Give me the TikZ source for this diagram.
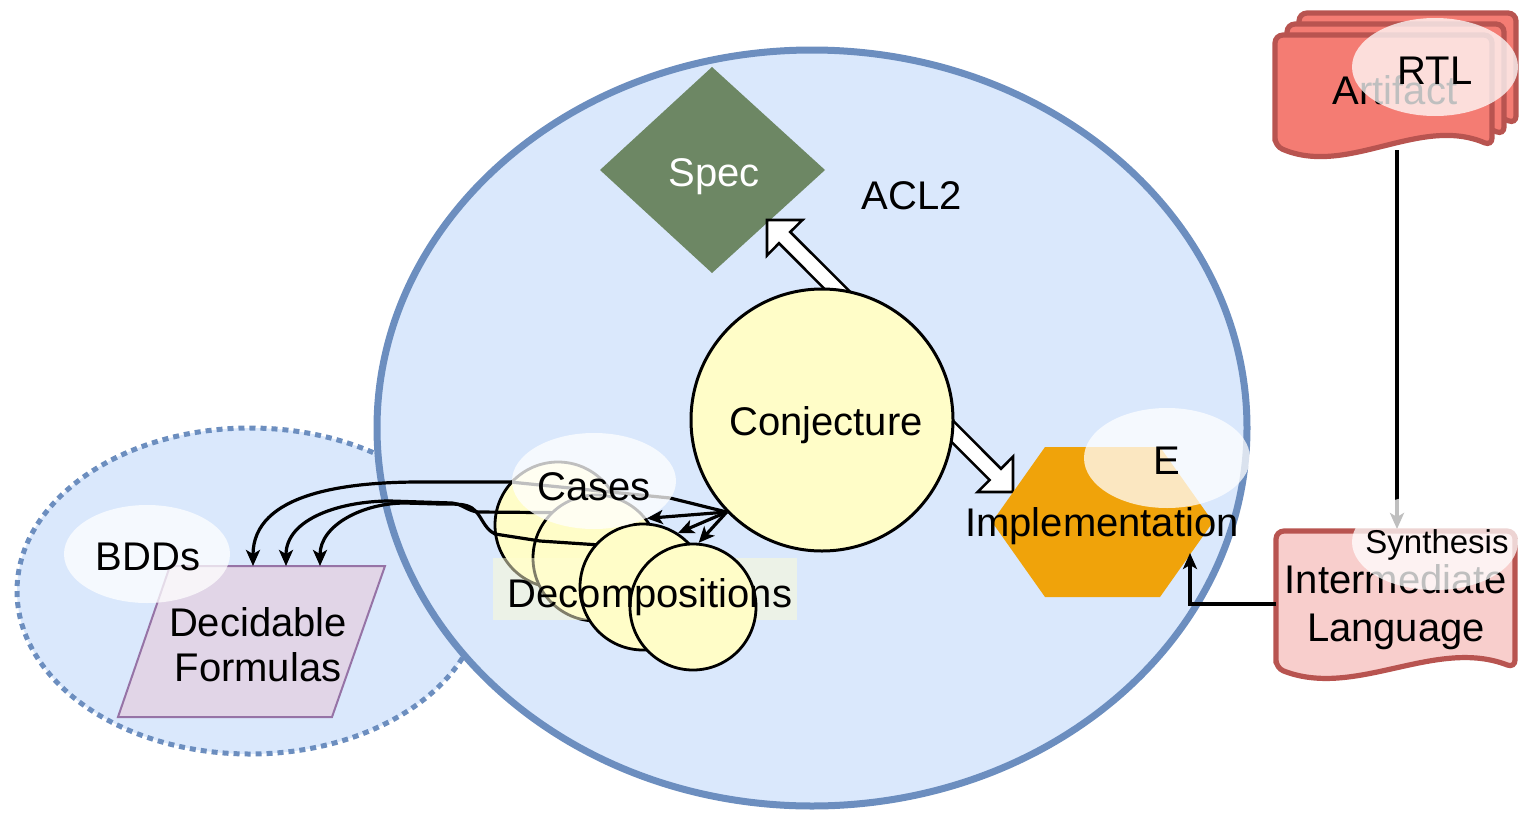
\documentclass[tikz,border=0pt]{standalone}
\usepackage{fontspec}
\setmainfont{Liberation Sans}
\usetikzlibrary{arrows.meta,calc}

\definecolor{aclfill}{HTML}{DAE8FC}
\definecolor{aclline}{HTML}{6C8EBF}
\definecolor{specgreen}{HTML}{6D8764}
\definecolor{implorange}{HTML}{F0A30A}
\definecolor{conjyellow}{RGB}{255,253,200}
\definecolor{dffill}{HTML}{E1D5E7}
\definecolor{dfline}{HTML}{9673A6}
\definecolor{ilfill}{HTML}{F8CECC}
\definecolor{redline}{HTML}{B85450}
\definecolor{artfill}{RGB}{244,124,115}

% document outline: style, left x, right x, top y, bottom y at the ends, wave amplitude
\newcommand\docoutline[6]{%
  \draw[#1, rounded corners=4pt] (#2,#5) -- (#2,#4) -- (#3,#4) -- (#3,#5)
    .. controls ({#3-(#3-#2)/3},{#5-3.46*#6}) and ({#2+(#3-#2)/3},{#5+3.46*#6}) .. (#2,#5) -- cycle;}

\tikzset{
  lbl/.style={font=\fontsize{20}{24}\selectfont, inner sep=0pt, align=center},
  conn/.style={line width=1.6pt, draw=black},
  tip/.style={-{Stealth[length=8pt,width=7pt,inset=2pt]}},
  haze/.style={fill=white, fill opacity=0.75},
  bubble/.style={circle, draw=black, line width=1.4pt, fill=conjyellow, minimum size=63pt, inner sep=0pt},
  blockarrow/.style={draw=black, fill=white, line width=1.3pt, line join=miter},
  redoc/.style={draw=redline, line width=2.6pt},
}

\begin{document}
\begin{tikzpicture}[x=0.5pt, y=-0.5pt]
\useasboundingbox (0,0) rectangle (1521,814);

% BDD region and ACL2 region
\draw[aclline, line width=2.5pt, dash pattern=on 3pt off 2.5pt, fill=aclfill]
  (250,591) ellipse [x radius=116.5pt, y radius=81.5pt];
\draw[aclline, line width=3.5pt, fill=aclfill]
  (812,428) ellipse [x radius=217.5pt, y radius=189pt];

% decidable formulas
\draw[fill=dffill, draw=dfline, line width=1pt]
  (170,566) -- (385,566) -- (332,717) -- (118,717) -- cycle;
\coordinate (df1) at (253,566);
\coordinate (df2) at (286,566);
\coordinate (df3) at (320,566);
\fill[haze] (147,554) ellipse [x radius=41.5pt, y radius=24.5pt];
\node[lbl] (bdds) at (148,557) {BDDs};
\node[lbl, font=\fontsize{20}{22.5}\selectfont] (df) at (258,645) {Decidable\\Formulas};

% specification
\fill[specgreen] (712,67) -- (825,170) -- (712,273) -- (600,170) -- cycle;
\node[lbl, text=white] (spec) at (714,177) {Spec};
\node[lbl] (acl2) at (912,196) {ACL2};

% hollow block arrows out of the conjecture
\draw[blockarrow] (852.7,294.3) -- (790.3,232.0) -- (802.4,220.0) -- (767,220)
  -- (767,255.4) -- (779.0,243.3) -- (841.3,305.7) -- cycle;
\draw[blockarrow] (945.7,413.3) -- (1001,468.7) -- (1013,456.6) -- (1013,492)
  -- (977.6,492) -- (989.6,480) -- (934.3,424.7) -- cycle;

% conjecture
\node[circle, draw=black, line width=1.5pt, fill=conjyellow, minimum size=131pt,
      inner sep=0pt] (conj) at (822,420) {};
\node[lbl] (conjtext) at (826,425) {Conjecture};

% implementation
\fill[implorange] (992,522) -- (1045,447) -- (1160,447) -- (1213,522) -- (1160,597) -- (1045,597) -- cycle;
\node[lbl] (impl) at (1102,526) {Implementation};
\coordinate (implin) at (1190,553);
\fill[haze] (1167,458) ellipse [x radius=41.5pt, y radius=25pt];
\node[lbl] (e) at (1167,461) {E};

% cases and decompositions
\node[bubble] (c1) at (558,525) {};
\draw[conn, tip] (conj.224) -- (670,498) -- (510,482) -- (420,482) to[out=180,in=90] (df1);
\draw[conn, tip] (600,513) -- (478,512) .. controls (468,511) and (462,504) .. (452,503)
  -- (390,501) to[out=180,in=90] (df2);
\node[bubble] (c2) at (596,558) {};
\draw[conn, tip] (600,545) -- (540,541) -- (495,534) .. controls (483,528) and (482,515) .. (472,508)
  .. controls (465,504) and (460,504) .. (440,504) -- (405,503) to[out=180,in=90] (df3);
\fill[conjyellow!80!white, fill opacity=0.5] (493,558) rectangle (797,620);
\node[bubble] (c3) at (643,587) {};
\node[bubble] (c4) at (693,607) {};
\draw[conn, tip] (conj.224) -- (c2.38);
\draw[conn, tip] (conj.224) -- (c3.57);
\draw[conn, tip] (conj.224) -- (c4.85);
\fill[haze] (594,481) ellipse [x radius=41pt, y radius=24pt];
\node[lbl] (cases) at (594,487) {Cases};
\node[lbl] (decomp) at (650,597) {Decompositions};

% RTL artifact stack
\docoutline{redoc, fill=artfill}{1299}{1516}{13}{124}{9}
\docoutline{redoc, fill=artfill}{1287}{1504}{24}{135}{9}
\docoutline{redoc, fill=artfill}{1275}{1492}{35}{146}{9}
\node[lbl] (art) at (1395,90) {Artifact};
\coordinate (artbot) at (1397,150);
\fill[haze] (1435,67) ellipse [x radius=41.5pt, y radius=24.5pt];
\node[lbl] (rtl) at (1435,71) {RTL};

% intermediate language
\coordinate (iltop) at (1397,529);
\draw[conn, tip] (artbot) -- (iltop);
\docoutline{redoc, fill=ilfill}{1276}{1515}{531}{668}{9}
\node[lbl] (il) at (1396,607) {Intermediate\\Language};
\coordinate (ilwest) at (1276,604);
\fill[haze] (1435,542) ellipse [x radius=41.5pt, y radius=24pt];
\node[lbl, font=\fontsize{16.5}{20}\selectfont] (synth) at (1437,545) {Synthesis};

\draw[conn, tip] (ilwest) -| (implin);
\end{tikzpicture}
\end{document}
